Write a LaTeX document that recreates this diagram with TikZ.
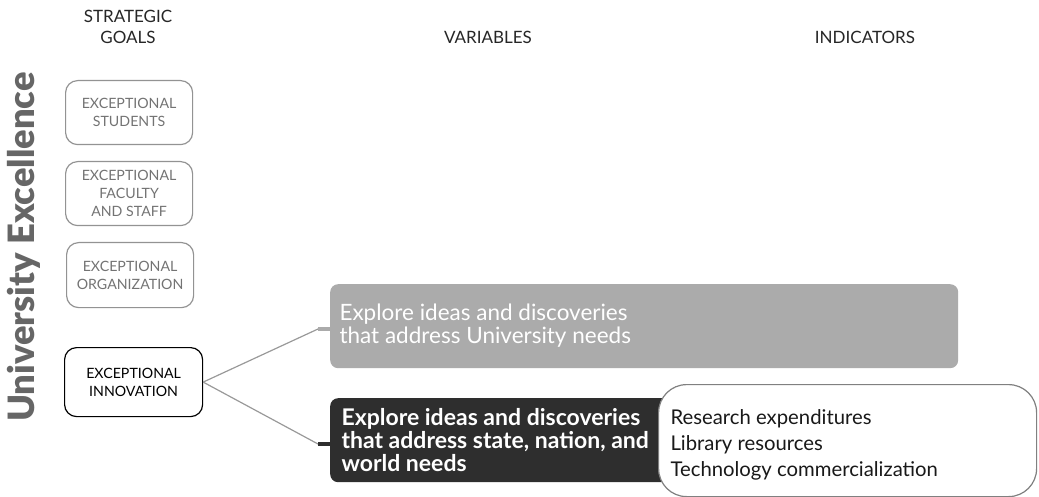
\documentclass[tikz,border=0pt]{standalone}
\usepackage{fontspec}
\setmainfont{Lato}
\newfontfamily\latoblack{Lato Black}
\begin{document}
\begin{tikzpicture}[x=1pt,y=-1pt,
  goal/.style={draw=gray!85!white, line width=1.2pt, rounded corners=12pt, text=black!55, font=\fontsize{14.2}{18}\selectfont, align=center, anchor=north west, inner sep=0pt},
  head/.style={font=\fontsize{17}{21}\selectfont, align=center, text=black!85},
  conn/.style={draw=black!40, line width=1.2pt},
  stub/.style={line width=4pt}]
\path[use as bounding box] (0,0) rectangle (1039,497);
% headers
\node[head] (hgoal) at (128,27) {STRATEGIC\\GOALS};
\node[head] (hvar) at (488,37) {VARIABLES};
\node[head] (hind) at (865,37) {INDICATORS};
% vertical title
\node[rotate=90, text=black!60, font=\fontsize{36.3}{40}\latoblack] (title) at (24,247) {University Excellence};
% goal boxes
\node[goal, minimum width=127pt, minimum height=64pt] (g1) at (65,80) {EXCEPTIONAL\\STUDENTS};
\node[goal, minimum width=127pt, minimum height=64pt] (g2) at (65,161) {EXCEPTIONAL\\FACULTY\\AND STAFF};
\node[goal, minimum width=127pt, minimum height=65pt] (g3) at (66,242) {EXCEPTIONAL\\ORGANIZATION};
\node[goal, draw=black, text=black, minimum width=138pt, minimum height=69pt] (g4) at (64,347) {EXCEPTIONAL\\INNOVATION};
% variable boxes
\node[fill=black!33, rounded corners=8pt, minimum width=628pt, minimum height=84pt, anchor=north west, inner sep=0pt] (v1) at (330,284) {};
\node[text=white, font=\fontsize{22.5}{23}\selectfont, align=left, anchor=west] (v1t) at (336,326) {Explore ideas and discoveries\\that address University needs};
\node[fill=black!82, rounded corners=8pt, minimum width=380pt, minimum height=84pt, anchor=north west, inner sep=0pt] (v2) at (330,398) {};
\node[text=white, font=\fontsize{23}{23}\selectfont\bfseries, align=left, anchor=west] (v2t) at (338,440) {Explore ideas and discoveries\\that address state, nation, and\\world needs};
% indicators
\node[draw=black!50, fill=white, line width=1.2pt, rounded corners=28pt, minimum width=378pt, minimum height=112pt, anchor=north west, inner sep=0pt] (ind) at (658,384) {};
\node[font=\fontsize{20.3}{26}\selectfont, align=left, anchor=west, text=black!90] (indt) at (667,445) {Research expenditures\\Library resources\\Technology commercialization};
% connectors
\coordinate (c1) at (318,329);
\coordinate (c2) at (318,444);
\draw[conn] (g4.east) -- (c1);
\draw[conn] (g4.east) -- (c2);
\draw[stub, draw=black!33] (c1) -- (v1.west |- c1);
\draw[stub, draw=black!82] (c2) -- (v2.west |- c2);
\end{tikzpicture}
\end{document}
